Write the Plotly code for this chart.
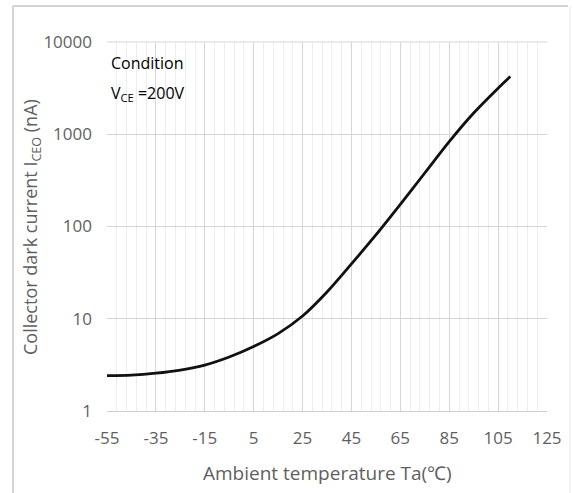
import plotly.graph_objects as go

# Data
temperature_c = [-55, -45, -35, -25, -15, -5, 5, 15, 25, 35, 45, 55, 65, 75, 85, 95, 105, 110]
dark_current_na = [2.42, 2.45, 2.57, 2.78, 3.15, 3.85, 5.0, 6.9, 10.7, 19.5, 39.3, 81, 174, 380, 832, 1700, 3160, 4230]

x_ticks = [-55, -35, -15, 5, 25, 45, 65, 85, 105, 125]
y_ticks = [1, 10, 100, 1000, 10000]
y_tick_text = ["1", "10", "100", "1000", "10000"]

W, H = 573, 493
L, R, T, B = 107, 547, 42, 411


def fx(xp):
    return xp / W


def fy(yp):
    return (H - yp) / H


fig = go.Figure()
fig.add_trace(go.Scatter(
    x=temperature_c, y=dark_current_na, mode="lines",
    line=dict(color="#111111", width=2.8, shape="spline", smoothing=0.9),
    showlegend=False, hoverinfo="skip",
))

tick_font = dict(family="Open Sans, Liberation Sans, sans-serif", size=17, color="#5f5f5f")

fig.update_layout(
    width=W, height=H,
    autosize=False,
    margin=dict(l=0, r=0, t=0, b=0, pad=0),
    paper_bgcolor="white", plot_bgcolor="white",
    xaxis=dict(
        domain=[fx(L), fx(R)], automargin=False,
        range=[-55, 125], tickvals=x_ticks, ticktext=[str(v) for v in x_ticks],
        showgrid=True, gridcolor="#d6d6d6", gridwidth=1,
        minor=dict(dtick=4, tick0=-55, showgrid=True, gridcolor="#ededed", gridwidth=1),
        zeroline=False, showline=True, linecolor="#cfcfcf", linewidth=1,
        ticks="", tickfont=tick_font, ticklabelstandoff=12,
    ),
    yaxis=dict(
        domain=[fy(B), fy(T)], automargin=False,
        type="log", range=[0, 4], tickvals=y_ticks, ticktext=y_tick_text,
        showgrid=True, gridcolor="#d6d6d6", gridwidth=1,
        zeroline=False, showline=False,
        ticks="", tickfont=tick_font, ticklabelstandoff=14,
    ),
    shapes=[
        dict(type="line", xref="paper", yref="paper", x0=fx(13), x1=fx(568), y0=fy(6), y1=fy(6),
             line=dict(color="#d4d4d4", width=2)),
        dict(type="line", xref="paper", yref="paper", x0=fx(13), x1=fx(13), y0=fy(6), y1=0,
             line=dict(color="#d4d4d4", width=2)),
        dict(type="line", xref="paper", yref="paper", x0=fx(570), x1=fx(570), y0=fy(6), y1=0,
             line=dict(color="#e8e8e8", width=1)),
        dict(type="line", xref="paper", yref="paper", x0=fx(L), x1=fx(R), y0=fy(T), y1=fy(T),
             line=dict(color="#d6d6d6", width=1)),
    ],
    annotations=[
        dict(text="Condition", xref="paper", yref="paper", x=fx(109), y=fy(63),
             xanchor="left", yanchor="middle", showarrow=False,
             font=dict(family="Open Sans, sans-serif", size=16, color="#000000")),
        dict(text="V<sub>CE</sub> =200V", xref="paper", yref="paper", x=fx(109), y=fy(94),
             xanchor="left", yanchor="middle", showarrow=False,
             font=dict(family="Open Sans, sans-serif", size=16, color="#000000")),
        dict(text="Collector dark current I<sub>CEO</sub> (nA)", xref="paper", yref="paper",
             x=fx(31), y=fy(227), xanchor="center", yanchor="middle", textangle=-90, showarrow=False,
             font=dict(family="Open Sans, sans-serif", size=18, color="#5f5f5f")),
        dict(text="Ambient temperature Ta(℃)", xref="paper", yref="paper",
             x=fx(327), y=fy(473), xanchor="center", yanchor="middle", showarrow=False,
             font=dict(family="Open Sans, sans-serif", size=19, color="#5f5f5f")),
    ],
)

fig.write_html(
    "out.html",
    config={"displayModeBar": False},
    post_script="document.body.style.margin='0';document.body.style.overflow='hidden';",
)
